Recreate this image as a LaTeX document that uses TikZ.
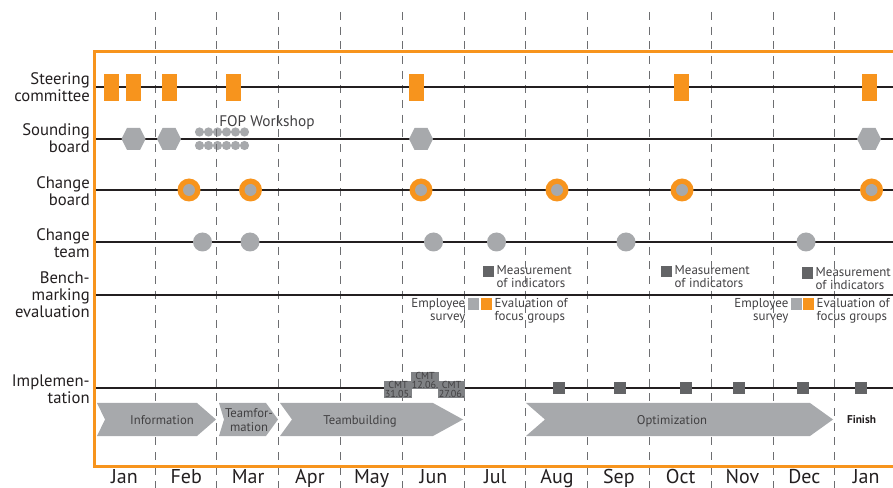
\documentclass[tikz,border=0pt]{standalone}
\usepackage{fontspec}
\setmainfont{PT Sans}
\usetikzlibrary{positioning}
\definecolor{tlorange}{HTML}{F7941D}
\definecolor{tlgray}{HTML}{A7A9AC}
\definecolor{tldark}{HTML}{636466}
\definecolor{tlcmt}{HTML}{808285}
\definecolor{tltext}{HTML}{414042}
\definecolor{tlline}{HTML}{231F20}
\definecolor{tldash}{HTML}{6D6E71}
\tikzset{
	rowline/.style={line width=1.2pt, color=tlline},
	monthline/.style={line width=0.75pt, color=tldash, dash pattern=on 6pt off 5pt},
	rowlabel/.style={anchor=east, align=right, inner sep=0pt, text=tlline, font=\fontsize{12.5}{12.75}\selectfont},
	monthlabel/.style={anchor=base, inner sep=0pt, text=tlline, font=\fontsize{15}{15}\selectfont},
	eventtext/.style={inner sep=0pt, text=tltext, font=\fontsize{9.7}{9.7}\selectfont},
	phasetext/.style={inner sep=0pt, align=center, text=tltext, font=\fontsize{9.5}{10}\selectfont},
	cmtbox/.style={fill=tlcmt, inner sep=0.4pt, align=center, text=tltext, font=\fontsize{7.6}{7}\selectfont},
	marksquare/.style={minimum size=8.5pt, inner sep=0pt},
}

\begin{document}
\begin{tikzpicture}[x=0.75pt, y=-0.75pt]
			%%%%% START %%%%%
			\useasboundingbox (0,0) rectangle (893,488);
			\clip (0,0) rectangle (893,488);
			
			% row labels
			\node[rowlabel] (lsteer) at (90,87) {Steering\\committee};
			\node[rowlabel] (lsound) at (90,138) {Sounding\\board};
			\node[rowlabel] (lcboard) at (90,191) {Change\\board};
			\node[rowlabel] (lcteam) at (90,243) {Change\\team};
			\node[rowlabel] (lbench) at (90,295) {Bench-\\marking\\evaluation};
			\node[rowlabel] (limpl) at (90,389) {Implemen-\\tation};
			
			% FOP workshop
			\foreach \k in {0,...,5} {
				\fill[tlgray] (199.5+9*\k,132) circle (4.6);
				\fill[tlgray] (199.5+9*\k,145.5) circle (4.6);
			}
			\node[anchor=base west, inner sep=0pt, text=tltext, font=\fontsize{11.5}{11.5}\selectfont] (fop) at (219,127) {FOP Workshop};
			
			% month separators
			\foreach \k in {0,...,11}
				\draw[monthline] (155+61.8*\k,12) -- (155+61.8*\k,488);
			
			% row lines
			\foreach \y in {87,139,190,242,295,388}
				\draw[rowline] (94,\y) -- (893,\y);
			
			\foreach \x in {111.5,133.5,169.5,233.5,416.5,681,869.5}
				\fill[tlorange] (\x-7.5,74) rectangle (\x+7.5,101);
			
			\foreach \x in {133.5,169,421,869}
				\fill[tlgray] (\x-12,139) -- (\x-6.5,128) -- (\x+6.5,128) -- (\x+12,139) -- (\x+6.5,150) -- (\x-6.5,150) -- cycle;
			
			\foreach \x in {189,250.5,421,557,682,871.5} {
				\fill[tlorange] (\x,190) circle (11.5);
				\fill[tlgray] (\x,190) circle (6);
			}
			
			\foreach \x in {202.5,250,433.5,496.5,626,806}
				\fill[tlgray] (\x,242) circle (9.5);
			
			% benchmarking
			\node[marksquare, fill=tldark] (mq1) at (488.5,271.5) {};
			\node[eventtext, align=left, right=1.5pt of mq1.north east, anchor=north west] (mt1) {Measurement\\of indicators};
			\node[marksquare, fill=tldark] (mq2) at (666.5,271.5) {};
			\node[eventtext, align=left, right=1.5pt of mq2.north east, anchor=north west] (mt2) {Measurement\\of indicators};
			\node[marksquare, fill=tldark] (mq3) at (807.5,273) {};
			\node[eventtext, align=left, right=1.5pt of mq3.north east, anchor=north west] (mt3) {Measurement\\of indicators};
			
			\node[marksquare, fill=tlgray] (es1) at (473.5,304) {};
			\node[marksquare, fill=tlorange] (fg1) at (486.5,304) {};
			\node[eventtext, align=right, left=1.5pt of es1.north west, anchor=north east] (et1) {Employee\\survey};
			\node[eventtext, align=left, right=1.5pt of fg1.north east, anchor=north west] (ft1) {Evaluation of\\focus groups};
			\node[marksquare, fill=tlgray] (es2) at (796.5,304) {};
			\node[marksquare, fill=tlorange] (fg2) at (808.5,304) {};
			\node[eventtext, align=right, left=1.5pt of es2.north west, anchor=north east] (et2) {Employee\\survey};
			\node[eventtext, align=left, right=1.5pt of fg2.north east, anchor=north west] (ft2) {Evaluation of\\focus groups};
			
			% implementation
			\foreach \x in {559,620,686,739,803,861}
				\fill[tldark] (\x-6,382) rectangle (\x+6,394);
			\node[cmtbox] (cmt1) at (398,389.5) {CMT\\31.05.};
			\node[cmtbox] (cmt2) at (425,380.5) {CMT\\12.06.};
			\node[cmtbox] (cmt3) at (451.5,389.5) {CMT\\27.06.};
			
			\fill[tlgray] (97,403) -- (197,403) -- (216,419.5) -- (197,436) -- (97,436) -- (105,419.5) -- cycle;
			\node[phasetext] (pinfo) at (162,420) {Information};
			\fill[tlgray] (219,403) -- (266,403) -- (278,419.5) -- (266,436) -- (219,436) -- (224,419.5) -- cycle;
			\node[phasetext] (pform) at (249,420) {Teamfor-\\mation};
			\fill[tlgray] (280,403) -- (433,403) -- (463,419.5) -- (433,436) -- (280,436) -- (292,419.5) -- cycle;
			\node[phasetext] (pbuild) at (360,421) {Teambuilding};
			\fill[tlgray] (526,403) -- (810,403) -- (833,419.5) -- (810,436) -- (526,436) -- (545,419.5) -- cycle;
			\node[phasetext] (popt) at (672,421) {Optimization};
			\node[inner sep=0pt, text=tlline, font=\bfseries\fontsize{8.5}{8.5}\selectfont] (finish) at (861.5,420) {Finish};
			
			% frame
			\draw[tlorange, line width=2.25pt] (900,52) -- (94,52) -- (94,466) -- (900,466);
			
			\foreach \m [count=\i from 0] in {Jan,Feb,Mar,Apr,May,Jun,Jul,Aug,Sep,Oct,Nov,Dec,Jan}
				\node[monthlabel] (mon\i) at (124.5+61.8*\i,483) {\m};
			%%%%% END %%%%%
\end{tikzpicture}
\end{document}
